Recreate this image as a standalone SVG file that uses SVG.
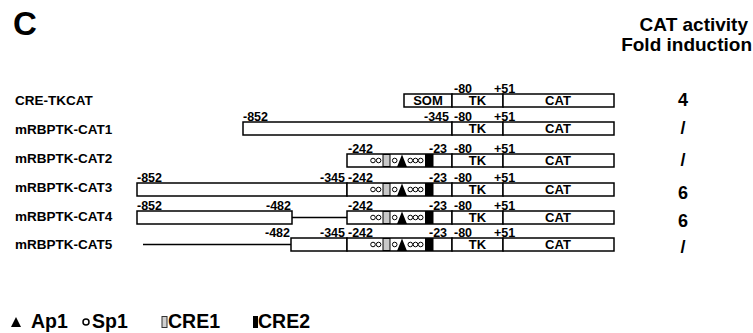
<svg xmlns="http://www.w3.org/2000/svg" xmlns:xlink="http://www.w3.org/1999/xlink" width="753" height="333" viewBox="0 0 753 333">
<style>
text{font-family:"Liberation Sans",Arial,sans-serif;font-weight:bold;fill:#000}
.box{fill:#fff;stroke:#000;stroke-width:1.5}
.ln{stroke:#000;stroke-width:1.5;fill:none}
.c{fill:#fff;stroke:#000;stroke-width:1}
.lab{font-size:13.5px}
.num{font-size:12.5px}
.in{font-size:13px;text-anchor:middle}
.fold{font-size:18px;text-anchor:middle}
.hd{font-size:19px;text-anchor:end}
.lg{font-size:19.5px}
</style>
<defs>
<g id="motif">
<rect x="347" y="0" width="105" height="13" class="box"/>
<circle cx="373" cy="6.5" r="2.3" class="c"/>
<circle cx="378.6" cy="6.5" r="2.3" class="c"/>
<rect x="383" y="0.5" width="7" height="12" fill="#c8c8c8" stroke="#000" stroke-width="1"/>
<circle cx="394.7" cy="6.5" r="2.3" class="c"/>
<polygon points="397,13 402,0.5 407,13" fill="#000"/>
<circle cx="410.3" cy="6.5" r="2.3" class="c"/>
<circle cx="415.5" cy="6.5" r="2.3" class="c"/>
<circle cx="420.7" cy="6.5" r="2.3" class="c"/>
<rect x="425" y="0" width="8.5" height="13" fill="#000"/>
<text x="348" y="-1.5" class="num">-242</text>
<text x="429" y="-1.5" class="num">-23</text>
</g>
<g id="tkcat">
<rect x="452" y="0" width="51" height="13" class="box"/>
<rect x="503" y="0" width="111" height="13" class="box"/>
<text x="477.5" y="11.3" class="in">TK</text>
<text x="558" y="11.3" class="in">CAT</text>
<text x="454" y="-1.5" class="num">-80</text>
<text x="494" y="-1.5" class="num">+51</text>
</g>
</defs>

<text x="13" y="35" style="font-size:33px">C</text>
<text x="748" y="31" class="hd">CAT activity</text>
<text x="752" y="51" class="hd">Fold induction</text>

<g id="connectors">
<line x1="292" y1="217.5" x2="347" y2="217.5" class="ln"/>
<line x1="143" y1="244.5" x2="291" y2="244.5" class="ln"/>
</g>

<g id="cre-tkcat">
<text x="15" y="105" class="lab">CRE-TKCAT</text>
<rect x="404" y="94" width="48" height="13" class="box"/>
<text x="428" y="105.3" class="in">SOM</text>
<use xlink:href="#tkcat" transform="translate(0,94)"/>
<text x="683" y="106" class="fold">4</text>
</g>

<g id="cat1">
<text x="15" y="134" class="lab">mRBPTK-CAT1</text>
<rect x="243" y="122" width="209" height="13" class="box"/>
<text x="243" y="120.5" class="num">-852</text>
<text x="449" y="120.5" class="num" text-anchor="end">-345</text>
<use xlink:href="#tkcat" transform="translate(0,122)"/>
<text x="683" y="134" class="fold">/</text>
</g>

<g id="cat2">
<text x="15" y="163" class="lab">mRBPTK-CAT2</text>
<use xlink:href="#motif" transform="translate(0,154)"/>
<use xlink:href="#tkcat" transform="translate(0,154)"/>
<text x="683" y="166" class="fold">/</text>
</g>

<g id="cat3">
<text x="15" y="192" class="lab">mRBPTK-CAT3</text>
<rect x="137" y="183" width="210" height="13" class="box"/>
<text x="137" y="181.5" class="num">-852</text>
<text x="345" y="181.5" class="num" text-anchor="end">-345</text>
<use xlink:href="#motif" transform="translate(0,183)"/>
<use xlink:href="#tkcat" transform="translate(0,183)"/>
<text x="683" y="199" class="fold">6</text>
</g>

<g id="cat4">
<text x="15" y="221" class="lab">mRBPTK-CAT4</text>
<rect x="137" y="211" width="155" height="13" class="box"/>
<text x="137" y="209.5" class="num">-852</text>
<text x="291" y="209.5" class="num" text-anchor="end">-482</text>
<use xlink:href="#motif" transform="translate(0,211)"/>
<use xlink:href="#tkcat" transform="translate(0,211)"/>
<text x="683" y="227" class="fold">6</text>
</g>

<g id="cat5">
<text x="15" y="249" class="lab">mRBPTK-CAT5</text>
<rect x="291" y="238" width="56" height="13" class="box"/>
<text x="290" y="236.5" class="num" text-anchor="end">-482</text>
<text x="345" y="236.5" class="num" text-anchor="end">-345</text>
<use xlink:href="#motif" transform="translate(0,238)"/>
<use xlink:href="#tkcat" transform="translate(0,238)"/>
<text x="683" y="253" class="fold">/</text>
</g>

<g id="legend">
<polygon points="11,327 16,317 21,327" fill="#000"/>
<text x="31" y="328" class="lg">Ap1</text>
<circle cx="86" cy="322" r="3" fill="#fff" stroke="#000" stroke-width="1.5"/>
<text x="92" y="328" class="lg">Sp1</text>
<rect x="162" y="316.5" width="5" height="11" fill="#d0d0d0" stroke="#333" stroke-width="1"/>
<text x="168" y="328" class="lg">CRE1</text>
<rect x="253" y="316" width="5" height="12" fill="#000"/>
<text x="258" y="328" class="lg">CRE2</text>
</g>
</svg>
